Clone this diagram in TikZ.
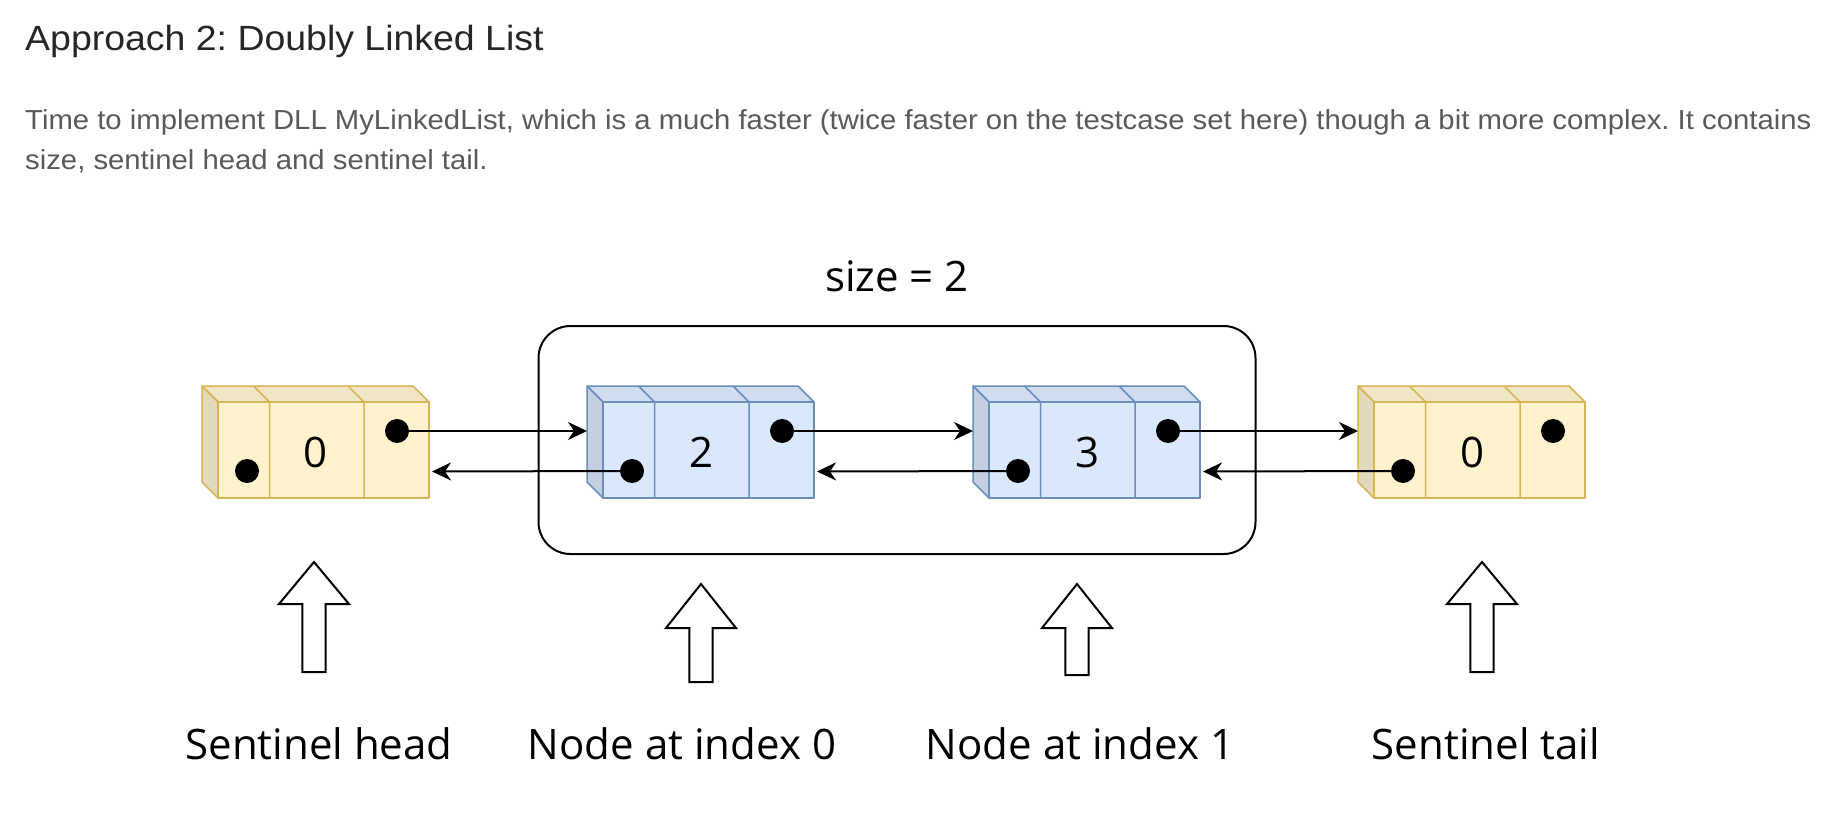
\documentclass[tikz,border=0pt]{standalone}
\usepackage{fontspec}
\setmainfont{Liberation Sans}
\newfontfamily\handfont{Open Sans}
\usetikzlibrary{arrows.meta}
\frenchspacing
\definecolor{yfill}{HTML}{FFF2CC}
\definecolor{ystroke}{HTML}{D6B656}
\definecolor{ytop}{HTML}{F0E5C5}
\definecolor{yside}{HTML}{E2D8BA}
\definecolor{bfill}{HTML}{DAE8FC}
\definecolor{bstroke}{HTML}{6C8EBF}
\definecolor{btop}{HTML}{D0DCEF}
\definecolor{bside}{HTML}{C4CFE0}
\definecolor{titlecol}{HTML}{262626}
\definecolor{paracol}{HTML}{5A5A5A}
\tikzset{
  cubeline/.style={line width=1.5pt, line join=round},
  dot/.style={circle, fill=black, inner sep=0pt, minimum size=24pt},
  val/.style={font=\handfont\fontsize{42}{48}\selectfont, inner sep=0pt},
  lab/.style={font=\handfont\fontsize{42}{48}\selectfont, inner sep=0pt, anchor=base},
  conn/.style={line width=2pt, -{Stealth[length=19pt,width=18pt,inset=6pt]}},
  hollow/.style={draw=black, fill=white, line width=2pt, line join=miter},
  para/.style={font=\fontsize{27.5}{34}\selectfont, text=paracol, inner sep=0pt, anchor=base west}
}
% #1 name, #2 front-left x, #3 fill, #4 top, #5 side, #6 stroke, #7 value
\newcommand\dllcube[7]{%
  \begin{scope}[shift={(#2,0)}]
    \filldraw[cubeline, fill=#4, draw=#6] (-16,386) -- (195,386) -- (211,402) -- (0,402) -- cycle;
    \filldraw[cubeline, fill=#5, draw=#6] (-16,386) -- (0,402) -- (0,498) -- (-16,482) -- cycle;
    \filldraw[cubeline, fill=#3, draw=#6] (0,402) rectangle (211,498);
    \draw[cubeline, draw=#6] (51.5,498) -- (51.5,402) -- (35.5,386)
                             (146,498) -- (146,402) -- (130,386);
    \node[val] (#1-val) at (98,452) {#7};
    \node[dot] (#1-p) at (29,471) {};
    \node[dot] (#1-n) at (179,431) {};
    \coordinate (#1-in) at (-16,431);
    \coordinate (#1-out) at (214,471.5);
  \end{scope}}
% #1 center x, #2 tip y, #3 shoulder y, #4 bottom y
\newcommand\hollowup[4]{%
  \draw[hollow] (#1,#2) -- (#1+35,#3) -- (#1+11.7,#3) -- (#1+11.7,#4)
    -- (#1-11.7,#4) -- (#1-11.7,#3) -- (#1-35,#3) -- cycle;}
\begin{document}
\begin{tikzpicture}[x=1pt,y=-1pt]
\fill[white] (0,0) rectangle (1842,832);
\useasboundingbox (0,0) rectangle (1842,832);

\node[anchor=base west, inner sep=0pt, font=\fontsize{35}{42}\selectfont, text=titlecol] (title) at (25,51) {\scalebox{1.07}[1]{Approach 2: Doubly Linked List}};
\node[para] (para1) at (25,130) {\scalebox{1.065}[1]{Time to implement DLL MyLinkedList, which is a much faster (twice faster on the testcase set here) though a bit more complex. It contains}};
\node[para] (para2) at (25,170) {\scalebox{1.065}[1]{size, sentinel head and sentinel tail.}};

\node[draw, line width=2pt, rounded corners=32pt, minimum width=717pt, minimum height=228pt, inner sep=0pt] (frame) at (897,440) {};
\node[lab] (sizelab) at (897,291) {size = 2};

\dllcube{h}{218}{yfill}{ytop}{yside}{ystroke}{0}
\dllcube{a}{603}{bfill}{btop}{bside}{bstroke}{2}
\dllcube{b}{989}{bfill}{btop}{bside}{bstroke}{3}
\dllcube{t}{1374}{yfill}{ytop}{yside}{ystroke}{0}

\draw[conn] (h-n.center) -- (a-in);
\draw[conn] (a-p.center) -- (h-out);
\draw[conn] (a-n.center) -- (b-in);
\draw[conn] (b-p.center) -- (a-out);
\draw[conn] (b-n.center) -- (t-in);
\draw[conn] (t-p.center) -- (b-out);

\hollowup{314}{562}{604}{672}
\hollowup{701}{584}{628}{682}
\hollowup{1077}{584}{628}{675}
\hollowup{1482}{562}{604}{672}

\node[lab] (lhead) at (319,759) {Sentinel head};
\node[lab] (lidx0) at (682,759) {Node at index 0};
\node[lab] (lidx1) at (1080,759) {Node at index 1};
\node[lab] (ltail) at (1486,759) {Sentinel tail};
\end{tikzpicture}
\end{document}
